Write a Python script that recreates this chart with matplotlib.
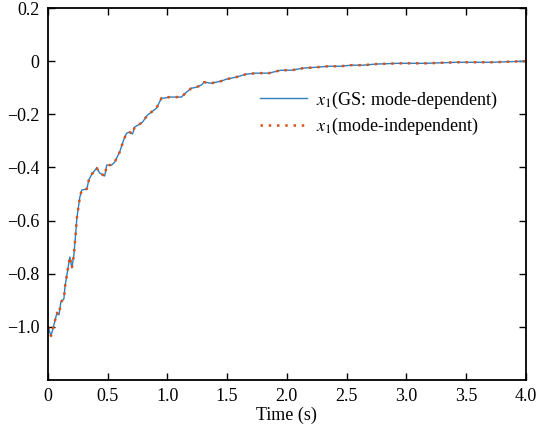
import matplotlib
matplotlib.use("Agg")
import matplotlib.pyplot as plt

plt.rcParams['font.family'] = ['Liberation Serif', 'DejaVu Serif']
plt.rcParams['mathtext.fontset'] = 'stix'

# state x1 (same trajectory for both controllers)
t = [0, 0.025, 0.05, 0.075, 0.092, 0.108, 0.133, 0.142, 0.158, 0.175, 0.183,
     0.2, 0.217, 0.225, 0.233, 0.242, 0.267, 0.283, 0.325, 0.342, 0.367,
     0.408, 0.433, 0.475, 0.492, 0.533, 0.558, 0.6, 0.633, 0.658, 0.683,
     0.708, 0.725, 0.767, 0.792, 0.833, 0.908, 0.95, 0.975, 1.017, 1.075,
     1.117, 1.158, 1.2, 1.242, 1.283, 1.308, 1.367, 1.408, 1.45, 1.492,
     1.575, 1.658, 1.742, 1.85, 1.95, 2.04, 2.14, 2.24, 2.35, 2.45, 2.54,
     2.64, 2.74, 2.93, 3.16, 3.43, 3.71, 4.0]
x1_dep = [-1.0, -1.034, -0.992, -0.947, -0.955, -0.906, -0.895, -0.850,
          -0.805, -0.759, -0.737, -0.778, -0.729, -0.684, -0.643, -0.590,
          -0.511, -0.485, -0.481, -0.447, -0.425, -0.402, -0.421, -0.432,
          -0.391, -0.391, -0.380, -0.342, -0.297, -0.271, -0.267, -0.274,
          -0.248, -0.237, -0.229, -0.203, -0.177, -0.139, -0.139, -0.135,
          -0.135, -0.135, -0.117, -0.102, -0.098, -0.090, -0.079, -0.083,
          -0.079, -0.075, -0.068, -0.060, -0.049, -0.045, -0.045, -0.034,
          -0.034, -0.026, -0.023, -0.019, -0.019, -0.015, -0.015, -0.011,
          -0.008, -0.008, -0.004, -0.004, 0.0]
x1_indep = list(x1_dep)

xticks = [0, 0.5, 1.0, 1.5, 2.0, 2.5, 3.0, 3.5, 4.0]
xlabels = ['0', '0.5', '1.0', '1.5', '2.0', '2.5', '3.0', '3.5', '4.0']
yticks = [-1.0, -0.8, -0.6, -0.4, -0.2, 0, 0.2]
ylabels = ['\u22121.0', '\u22120.8', '\u22120.6', '\u22120.4', '\u22120.2', '0', '0.2']

fig = plt.figure(figsize=(5.38, 4.33), dpi=100)
ax = fig.add_axes([0.0892, 0.1224, 0.888, 0.859])

ax.plot(t, x1_dep, color='#2f7fc1', lw=1.0, label=r'$x_1$(GS: mode-dependent)')
ax.plot(t, x1_indep, color='#D95319', lw=1.8, linestyle=(0, (1, 2.3)),
        label=r'$x_1$(mode-independent)')

ax.set_xlim(0, 4)
ax.set_ylim(-1.2, 0.2)
ax.set_xticks(xticks)
ax.set_xticklabels(xlabels)
ax.set_yticks(yticks)
ax.set_yticklabels(ylabels)
ax.tick_params(direction='in', length=5, width=1, top=True, right=True,
               labelsize=13, pad=6)
for s in ax.spines.values():
    s.set_linewidth(1.3)
ax.set_xlabel('Time (s)', fontsize=13, labelpad=1)

ax.legend(loc='upper left', bbox_to_anchor=(0.41, 0.825), frameon=False,
          fontsize=13, handlelength=2.6, handletextpad=0.5, labelspacing=0.3)

fig.savefig('out.png', dpi=100)
